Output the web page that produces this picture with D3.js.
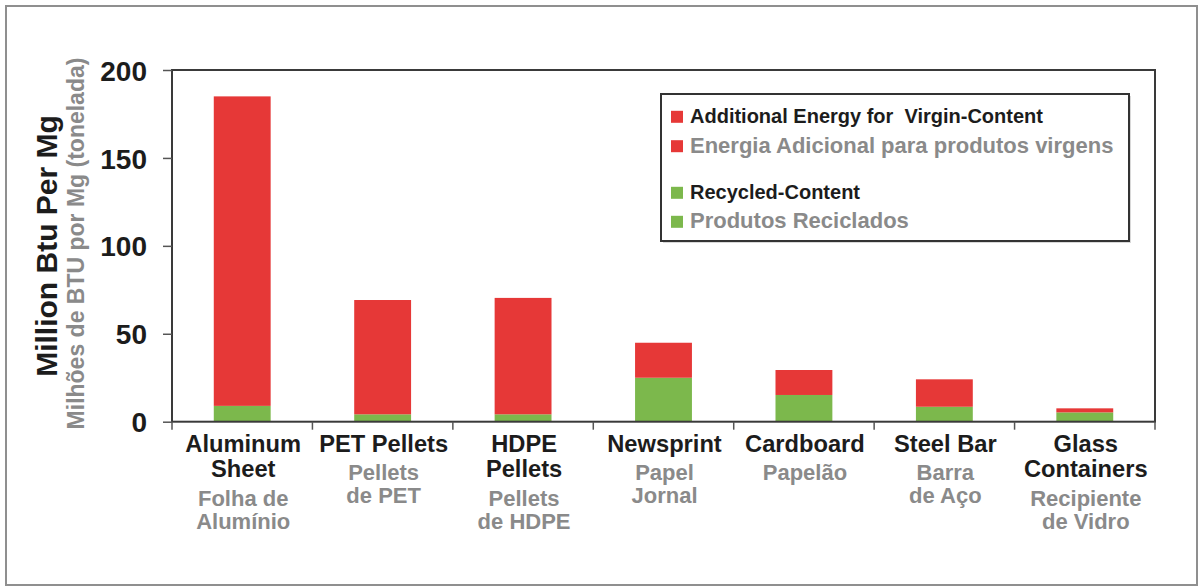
<!DOCTYPE html>
<html>
<head>
<meta charset="utf-8">
<script src="https://cdn.jsdelivr.net/npm/d3@7"></script>
<style>
  body { margin: 0; background: #fff; }
  svg text { font-family: "Liberation Sans", Arial, sans-serif; font-weight: bold; }
</style>
</head>
<body>
<svg id="chart" width="1201" height="587"></svg>
<script>

// categories, english on top, portuguese underneath
const categories = ['Aluminum Sheet','PET Pellets','HDPE Pellets','Newsprint','Cardboard','Steel Bar','Glass Containers'];
const labels_en = [['Aluminum','Sheet'],['PET Pellets'],['HDPE','Pellets'],['Newsprint'],['Cardboard'],['Steel Bar'],['Glass','Containers']];
const labels_pt = [['Folha de','Alumínio'],['Pellets','de PET'],['Pellets','de HDPE'],['Papel','Jornal'],['Papelão'],['Barra','de Aço'],['Recipiente','de Vidro']];

// million Btu per Mg
const recycled   = [9, 4.2, 4.2, 25, 15.2, 8.5, 5.3];
const additional = [176, 65, 66.2, 19.9, 14.2, 15.6, 2.3];

const y_ticks = [0, 50, 100, 150, 200];

const series_keys = ['recycled','additional'];
const colors = {recycled:'#7cb84c', additional:'#e63837'};

const legend_items = [
	{key:'additional', text:'Additional Energy for  Virgin-Content', pt:false},
	{key:'additional', text:'Energia Adicional para produtos virgens', pt:true},
	{key:'recycled', text:'Recycled-Content', pt:false},
	{key:'recycled', text:'Produtos Reciclados', pt:true}
];

const svg = d3.select('#chart');
const dark = '#1c1c1c', grey = '#8a8a8a';

// outer frame
svg.append('rect')
	.attr('x',6).attr('y',6).attr('width',1191).attr('height',579)
	.attr('fill','#fff').attr('stroke','#8f8f8f').attr('stroke-width',2);

const plot_left = 172, plot_right = 1155, plot_top = 70, plot_bottom = 421.7;

const table = categories.map((c,i) => ({cat:c, recycled:recycled[i], additional:additional[i]}));
const stacked = d3.stack().keys(series_keys)(table);

const x = d3.scaleBand().domain(categories).range([plot_left,plot_right]).padding(0);
const xbar = d3.scaleBand().domain(categories).range([plot_left,plot_right])
	.paddingInner(0.595).paddingOuter(0.2975);
const y = d3.scaleLinear().domain([0,200]).range([plot_bottom,plot_top]);

// bars
svg.append('g').selectAll('g')
		.data(stacked)
		.enter()
	.append('g')
		.attr('fill', d => colors[d.key])
	.selectAll('rect')
		.data(d => d)
		.enter()
	.append('rect')
		.attr('x', d => xbar(d.data.cat))
		.attr('width', xbar.bandwidth())
		.attr('y', d => y(d[1]))
		.attr('height', d => y(d[0]) - y(d[1]));

// plot box
svg.append('rect')
	.attr('x',plot_left).attr('y',plot_top)
	.attr('width',plot_right-plot_left).attr('height',plot_bottom-plot_top)
	.attr('fill','none').attr('stroke','#3a3a3a').attr('stroke-width',2);

// y axis
const yaxis = svg.append('g')
	.attr('transform',`translate(${plot_left},0)`)
	.call(d3.axisLeft(y).tickValues(y_ticks).tickSize(9).tickPadding(16));
yaxis.select('.domain').remove();
yaxis.selectAll('line').attr('stroke','#555').attr('stroke-width',1.5);
yaxis.selectAll('text')
	.attr('fill',dark)
	.attr('font-size','28px')
	.attr('dy','0.36em')
	.style('font-family','"Liberation Sans", Arial, sans-serif')
	.style('font-weight','bold');

// x ticks at category boundaries
const boundaries = categories.map(c => x(c)).concat([plot_right]);
svg.append('g').selectAll('line')
		.data(boundaries)
		.enter()
	.append('line')
		.attr('x1', d => d).attr('x2', d => d)
		.attr('y1', plot_bottom).attr('y2', plot_bottom + 8)
		.attr('stroke','#555').attr('stroke-width',1.5);

// category labels
const cat_groups = svg.append('g').selectAll('g')
		.data(categories)
		.enter()
	.append('g')
		.attr('transform', d => `translate(${x(d) + x.bandwidth()/2 + 1},0)`);

cat_groups.each(function(d,i){
	const g = d3.select(this);
	const en = labels_en[i], pt = labels_pt[i];
	en.forEach((t,j) => {
		g.append('text')
			.attr('text-anchor','middle')
			.attr('y', 451.5 + j*25.6)
			.attr('font-size','23.7px')
			.attr('fill',dark)
			.text(t);
	});
	const last = 451.5 + (en.length-1)*25.6;
	pt.forEach((t,j) => {
		g.append('text')
			.attr('text-anchor','middle')
			.attr('y', last + 28.5 + j*23)
			.attr('font-size','22px')
			.attr('fill',grey)
			.text(t);
	});
});

// y axis titles
svg.append('text')
	.attr('transform','translate(57,246) rotate(-90)')
	.attr('text-anchor','middle')
	.attr('font-size','30px')
	.attr('fill',dark)
	.text('Million Btu Per Mg');

svg.append('text')
	.attr('transform','translate(84,243.5) rotate(-90)')
	.attr('text-anchor','middle')
	.attr('font-size','23px')
	.attr('fill',grey)
	.text('Milhões de BTU por Mg (tonelada)');

// legend
const lg = svg.append('g');
lg.append('rect')
	.attr('x',663).attr('y',96).attr('width',468).attr('height',147)
	.attr('fill','#d8d8d8');
lg.append('rect')
	.attr('x',661).attr('y',94).attr('width',468).attr('height',147)
	.attr('fill','#fff').attr('stroke','#333').attr('stroke-width',2);

const legend_baselines = [123.3, 152.7, 199.3, 228.3];
const legend_rows = lg.selectAll('g.legend-row')
		.data(legend_items)
		.enter()
	.append('g')
		.attr('class','legend-row')
		.attr('transform', (d,i) => `translate(671,${legend_baselines[i]})`);

legend_rows.append('rect')
	.attr('x',0).attr('y',-12.5).attr('width',12).attr('height',12)
	.attr('fill', d => colors[d.key]);

legend_rows.append('text')
	.attr('x',19)
	.attr('font-size', d => d.pt ? '22px' : '20px')
	.attr('fill', d => d.pt ? grey : dark)
	.style('white-space','pre')
	.text(d => d.text);

</script>
</body>
</html>
